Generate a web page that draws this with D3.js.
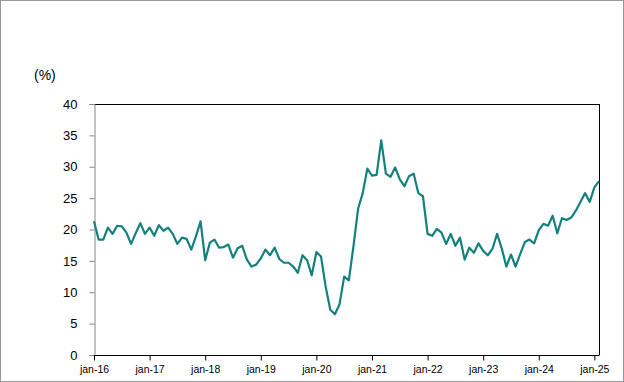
<!DOCTYPE html>
<html>
<head>
<meta charset="utf-8">
<script src="https://cdn.jsdelivr.net/npm/d3@7"></script>
<style>
  body { margin: 0; background: #fff; }
  text { font-family: "Liberation Sans", Arial, sans-serif; fill: #000; }
</style>
</head>
<body>
<div id="chart"></div>
<script>
// Monthly series, jan-16 .. feb-25 (%)
const values = [
    21.3, 18.4, 18.4, 20.3, 19.3, 20.6, 20.5, 19.5, 17.7, 19.4, 21.0, 19.3,   // 2016
    20.3, 19.0, 20.7, 19.8, 20.3, 19.3, 17.7, 18.7, 18.5, 16.8, 18.9, 21.3,   // 2017
    15.1, 17.9, 18.4, 17.1, 17.2, 17.6, 15.5, 17.0, 17.4, 15.2, 14.1, 14.4,   // 2018
    15.4, 16.8, 15.9, 17.1, 15.3, 14.7, 14.7, 14.1, 13.1, 15.9, 15.1, 12.7,   // 2019
    16.4, 15.7, 10.9, 7.2, 6.5, 8.1, 12.5, 11.9, 17.3, 23.3, 25.8, 29.7,      // 2020
    28.6, 28.7, 34.2, 28.9, 28.4, 29.9, 28.0, 26.9, 28.5, 28.9, 25.8, 25.3,   // 2021
    19.3, 19.0, 20.1, 19.5, 17.7, 19.3, 17.4, 18.7, 15.2, 17.1, 16.3, 17.8,   // 2022
    16.6, 15.9, 16.9, 19.3, 17.0, 14.1, 16.0, 14.1, 16.1, 18.0, 18.4, 17.8,   // 2023
    19.9, 20.9, 20.6, 22.2, 19.4, 21.8, 21.5, 21.9, 23.0, 24.4, 25.8, 24.4,   // 2024
    26.7, 27.7                                                                 // 2025
]

// Tick labels, one per january
const xTickLabels = ["jan-16", "jan-17", "jan-18", "jan-19", "jan-20", "jan-21", "jan-22", "jan-23", "jan-24", "jan-25"]
const yTicks = [0, 5, 10, 15, 20, 25, 30, 35, 40]
const yUnit = "(%)"

const width = 624
const height = 382
const margin = {top: 104, right: 25, bottom: 27, left: 94}

let svg = d3.select("#chart").append("svg")
    .attr("width", width)
    .attr("height", height)

// Outer frame
svg.append("rect")
    .attr("x", 0.5).attr("y", 0.5)
    .attr("width", width - 1).attr("height", height - 1)
    .style("fill", "#fff")
    .style("stroke", "#999")

let x = d3.scaleLinear()
    .domain([0, values.length - 1])
    .range([margin.left, width - margin.right])

let y = d3.scaleLinear()
    .domain([0, 40])
    .range([height - margin.bottom, margin.top])

// Plot frame: top and right borders
svg.append("line")
    .attr("x1", margin.left).attr("x2", width - margin.right)
    .attr("y1", y(40) + 0.5).attr("y2", y(40) + 0.5)
    .style("stroke", "#000")
svg.append("line")
    .attr("x1", width - margin.right + 0.5).attr("x2", width - margin.right + 0.5)
    .attr("y1", y(40)).attr("y2", y(0))
    .style("stroke", "#000")

// Y axis (grey, ticks outside)
let yAxis = svg.append("g")
    .attr("transform", "translate(" + (margin.left + 0.5) + ",0)")
    .call(d3.axisLeft(y).tickValues(yTicks).tickSize(5).tickPadding(12))
yAxis.select(".domain").style("stroke", "#868686")
yAxis.selectAll(".tick line").style("stroke", "#868686")
yAxis.selectAll("text")
    .style("font-size", "13px")
    .style("font-family", "Liberation Sans, Arial, sans-serif")
    .style("fill", "#000")

svg.append("text")
    .attr("x", 34)
    .attr("y", 80)
    .style("font-size", "14px")
    .text(yUnit)

// X axis: tick at every january
let janIdx = xTickLabels.map((d, i) => i * 12)
let xAxis = svg.append("g")
    .attr("transform", "translate(0," + (y(0) + 0.5) + ")")
    .call(d3.axisBottom(x).tickValues(janIdx).tickSize(5).tickPadding(5)
        .tickFormat((d, i) => xTickLabels[i]))
xAxis.select(".domain").attr("d", "M" + margin.left + ",0H" + (width - margin.right + 0.5)).style("stroke", "#000")
xAxis.selectAll(".tick line").style("stroke", "#000")
xAxis.selectAll("text")
    .style("font-size", "10.5px")
    .style("font-family", "Liberation Sans, Arial, sans-serif")
    .style("fill", "#000")

// The series line
let line = d3.line()
    .x((d, i) => x(i))
    .y(d => y(d))

svg.append("path")
    .datum(values)
    .attr("d", line)
    .style("fill", "none")
    .style("stroke", "#13817e")
    .style("stroke-width", 2.2)
    .style("stroke-linejoin", "round")
</script>
</body>
</html>
